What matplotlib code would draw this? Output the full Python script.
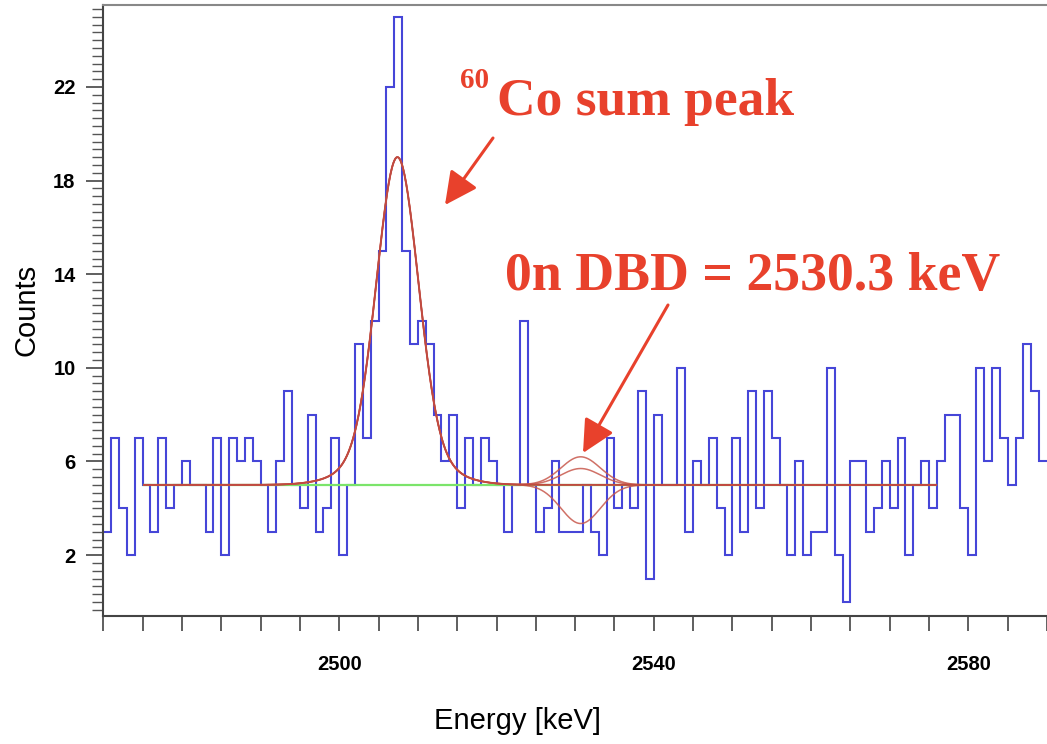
import numpy as np
import matplotlib.pyplot as plt
from matplotlib.patches import FancyArrowPatch
from matplotlib.ticker import MultipleLocator

plt.rcParams["font.family"] = ["Liberation Sans", "DejaVu Sans"]

# counts per 1 keV bin, first bin starts at 2470 keV
bin_start = 2470
counts = [3, 7, 4, 2, 7, 5, 3, 7, 4, 5, 6, 5, 5, 3, 7, 2, 7, 6, 7, 6,
          5, 3, 6, 9, 5, 4, 8, 3, 4, 7, 2, 5, 11, 7, 12, 15, 22, 25, 15, 11,
          12, 11, 8, 6, 8, 4, 7, 5, 7, 6, 5, 3, 5, 12, 5, 3, 4, 6, 3, 3,
          3, 5, 3, 2, 7, 4, 5, 4, 9, 1, 8, 5, 5, 10, 3, 6, 5, 7, 4, 2,
          7, 3, 9, 4, 9, 7, 5, 2, 6, 2, 3, 3, 10, 2, 0, 6, 6, 3, 4, 6,
          4, 7, 2, 5, 6, 4, 6, 8, 8, 4, 2, 10, 6, 10, 7, 5, 7, 11, 9, 6]

# fit: flat background + 60Co sum peak + 0nDBD line (three amplitudes)
fit_lo, fit_hi = 2475.2, 2575.9
background = 5.0
peak_center = 2507.4
peak_amp, peak_sigma = 12.5, 2.6
tail_amp, tail_sigma = 1.5, 5.0
dbd_center = 2530.7
dbd_sigma = 2.5
dbd_amps = [1.2, 0.7, -1.65]

xtick_labels = [2500, 2540, 2580]
ytick_labels = [2, 6, 10, 14, 18, 22]

red = "#e8412c"
W, H = 1047, 744


def fx(px):
    return px / W


def fy(py):
    return 1 - py / H


fig = plt.figure(figsize=(W / 100, H / 100), dpi=100)
ax = fig.add_axes([fx(103.3), fy(616), 1 - fx(103.3), (616 - 5) / H])

edges = np.arange(bin_start, bin_start + len(counts) + 1)
ax.stairs(counts, edges, baseline=None, color="#4646d8", lw=1.5)

x = np.linspace(fit_lo, fit_hi, 1500)
sum_peak = (peak_amp * np.exp(-(x - peak_center) ** 2 / (2 * peak_sigma ** 2))
            + tail_amp * np.exp(-(x - peak_center) ** 2 / (2 * tail_sigma ** 2)))
ax.plot([fit_lo, fit_hi], [background, background], color="#7be46a", lw=1.6)
for a in dbd_amps:
    dbd = a * np.exp(-(x - dbd_center) ** 2 / (2 * dbd_sigma ** 2))
    ax.plot(x, background + sum_peak + dbd, color="#c8584c", lw=1.1, alpha=0.85)
ax.plot(x, background + sum_peak, color="#c04a40", lw=1.4)

ax.set_xlim(bin_start, bin_start + (W - 103.3) / 7.885)
ax.set_ylim(-0.6, 25.5)

xt = np.arange(bin_start, 2591, 5)
ax.set_xticks(xt, [str(v) if v in xtick_labels else "" for v in xt],
              fontsize=14.5, fontweight="bold")
ax.set_yticks(ytick_labels, [str(v) for v in ytick_labels],
              fontsize=14.5, fontweight="bold")
ax.yaxis.set_minor_locator(MultipleLocator(1 / 3))
ax.tick_params(axis="x", direction="out", length=11, width=1.2,
               color="#444444", pad=17)
ax.tick_params(axis="y", which="major", direction="out", length=12,
               width=1.2, color="#444444", pad=8)
ax.tick_params(axis="y", which="minor", direction="out", length=8,
               width=1.0, color="#555555")

ax.spines["right"].set_visible(False)
ax.spines["top"].set_color("#888888")
for s in ["left", "bottom", "top"]:
    ax.spines[s].set_linewidth(1.5)
ax.spines["left"].set_color("#444444")
ax.spines["bottom"].set_color("#444444")

fig.text(fx(27), fy(310), "Counts", rotation=90, ha="center", va="center",
         fontsize=21)
fig.text(fx(518), fy(721), "Energy [keV]", ha="center", va="center",
         fontsize=21)

serif = ["Liberation Serif", "DejaVu Serif"]
fig.text(fx(460), fy(88), "60", family=serif, weight="bold", fontsize=21,
         color=red, va="baseline")
fig.text(fx(497), fy(115), "Co sum peak", family=serif, weight="bold",
         fontsize=38.5, color=red, va="baseline")
fig.text(fx(505), fy(290), "0n DBD = 2530.3 keV", family=serif,
         weight="bold", fontsize=38.7, color=red, va="baseline")

for tail, tip in [((493, 138), (445, 205)), ((668, 305), (583, 453))]:
    arr = FancyArrowPatch((fx(tail[0]), fy(tail[1])), (fx(tip[0]), fy(tip[1])),
                          transform=fig.transFigure,
                          arrowstyle="-|>,head_length=0.4,head_width=0.2",
                          mutation_scale=50, lw=2.2, color=red,
                          shrinkA=0, shrinkB=0)
    fig.patches.append(arr)

fig.savefig("out.png", dpi=100)
